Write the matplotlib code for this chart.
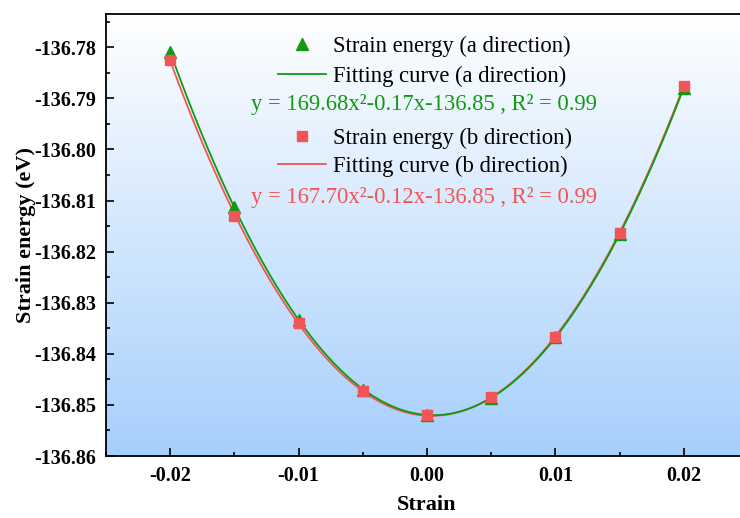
import matplotlib.pyplot as plt
import numpy as np
from matplotlib.colors import LinearSegmentedColormap
from matplotlib.lines import Line2D
from matplotlib.ticker import MultipleLocator

plt.rcParams["font.family"] = ["Liberation Serif", "DejaVu Serif"]

# --- Dados ---
strain = [-0.02, -0.015, -0.01, -0.005, 0.0, 0.005, 0.01, 0.015, 0.02]
energia_a = [-136.7810, -136.8113, -136.8333, -136.8470, -136.8520,
             -136.8487, -136.8367, -136.8165, -136.7880]
energia_b = [-136.7825, -136.8130, -136.8340, -136.8473, -136.8520,
             -136.8485, -136.8367, -136.8163, -136.7875]
eq_a = "y = 169.68x²-0.17x-136.85 , R² = 0.99"
eq_b = "y = 167.70x²-0.12x-136.85 , R² = 0.99"

cor_a = "#0f9a0f"
cor_b = "#f25555"

fig = plt.figure(figsize=(7.4, 5.18), dpi=100)
ax = fig.add_axes([106 / 740, 1 - 456 / 518, 642 / 740, 442 / 518])

ax.set_xlim(-0.025, 0.025)
ax.set_ylim(-136.86, -136.7735)

# fundo em degradê (branco no topo, azul embaixo)
grad = np.linspace(0, 1, 256).reshape(-1, 1)
cmap = LinearSegmentedColormap.from_list("bg", ["#ffffff", "#a6cffc"])
ax.imshow(grad, aspect="auto", cmap=cmap, extent=[-0.025, 0.025, -136.86, -136.7735],
          origin="upper", zorder=0)

# curvas ajustadas
x_fit = np.linspace(-0.02, 0.02, 300)
coef_a = np.polyfit(strain, energia_a, 2)
coef_b = np.polyfit(strain, energia_b, 2)
ax.plot(x_fit, np.polyval(coef_b, x_fit), color=cor_b, lw=1.3, zorder=2)
ax.plot(x_fit, np.polyval(coef_a, x_fit), color=cor_a, lw=1.3, zorder=3)

ax.plot(strain, energia_a, "^", color=cor_a, ms=9, ls="none", zorder=4)
ax.plot(strain, energia_b, "s", color=cor_b, ms=7.5, ls="none", zorder=5)

ax.xaxis.set_major_locator(MultipleLocator(0.01))
ax.xaxis.set_minor_locator(MultipleLocator(0.005))
ax.yaxis.set_major_locator(MultipleLocator(0.01))
ax.yaxis.set_minor_locator(MultipleLocator(0.005))
ax.xaxis.set_major_formatter(plt.FormatStrFormatter("%.2f"))
ax.yaxis.set_major_formatter(plt.FormatStrFormatter("%.2f"))
ax.tick_params(which="both", direction="in", width=1.2)
ax.tick_params(which="major", length=6, labelsize=14.5, pad=7)
ax.tick_params(which="minor", length=3)
for lab in ax.get_xticklabels() + ax.get_yticklabels():
    lab.set_fontweight("bold")
for s in ax.spines.values():
    s.set_linewidth(1.3)

ax.set_xlabel("Strain", fontsize=16, fontweight="bold", labelpad=7)
ax.set_ylabel("Strain energy (eV)", fontsize=16, fontweight="bold", labelpad=-1.5)

# legendas
fs_leg = 16.3
h_a = [Line2D([], [], marker="^", color=cor_a, ls="none", ms=9),
       Line2D([], [], color=cor_a, lw=1.3)]
h_b = [Line2D([], [], marker="s", color=cor_b, ls="none", ms=7.5),
       Line2D([], [], color=cor_b, lw=1.3)]
leg_a = ax.legend(h_a, ["Strain energy (a direction)", "Fitting curve (a direction)"],
                  loc="upper left", bbox_to_anchor=((278 - 106) / 642, (456 - 36) / 442),
                  frameon=False, fontsize=fs_leg, handlelength=2.1, labelspacing=0.36,
                  borderaxespad=0, borderpad=0, handletextpad=0.35)
ax.add_artist(leg_a)
ax.legend(h_b, ["Strain energy (b direction)", "Fitting curve (b direction)"],
          loc="upper left", bbox_to_anchor=((278 - 106) / 642, (456 - 128) / 442),
          frameon=False, fontsize=fs_leg, handlelength=2.1, labelspacing=0.3,
          borderaxespad=0, borderpad=0, handletextpad=0.35)

ax.text((424 - 106) / 642, (456 - 104) / 442, eq_a, transform=ax.transAxes,
        color=cor_a, fontsize=fs_leg, ha="center", va="center")
ax.text((424 - 106) / 642, (456 - 197) / 442, eq_b, transform=ax.transAxes,
        color=cor_b, fontsize=fs_leg, ha="center", va="center")

plt.savefig("out.png", dpi=100)
